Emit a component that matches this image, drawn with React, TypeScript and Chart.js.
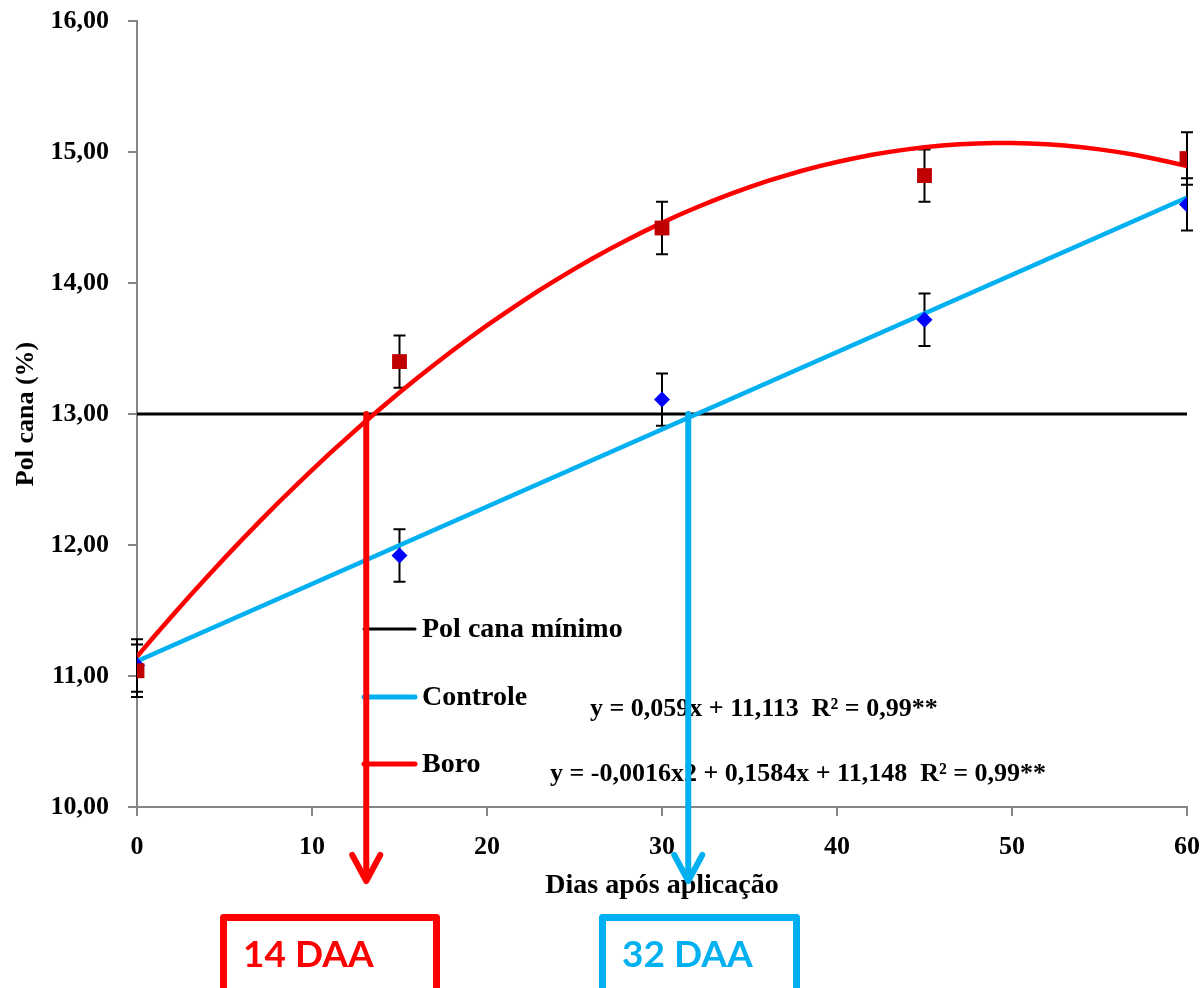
import { useEffect, useRef } from "react";
import { Chart, registerables } from "chart.js";

Chart.register(...registerables);

// Sampling days and measured Pol cana (%) per treatment
const days = [0, 15, 30, 45, 60];
const controleValues = [11.08, 11.92, 13.11, 13.72, 14.6];
const boroValues = [11.04, 13.4, 14.42, 14.82, 14.95];
const controleErrors = [0.2, 0.2, 0.2, 0.2, 0.2];
const boroErrors = [0.2, 0.2, 0.2, 0.2, 0.2];

// Minimum Pol cana reference level
const polMinimo = 13;

// Regression coefficients (constant, x, x²)
const controleCoef = [11.113, 0.059];
const boroCoef = [11.148, 0.1584, -0.0016];

const legendLabels = ["Pol cana mínimo", "Controle", "Boro"];
const equationLabels = [
  "y = 0,059x + 11,113  R² = 0,99**",
  "y = -0,0016x2 + 0,1584x + 11,148  R² = 0,99**",
];
// Days where each treatment reaches the minimum level
const daaDays = [13.1, 31.5];
const daaLabels = ["14 DAA", "32 DAA"];

const RED = "#FF0000";
const CYAN = "#00B0F0";
const AXIS = "#868686";
const SERIF = '"Liberation Serif", "Times New Roman", serif';

const polyAt = (coef: number[], x: number) =>
  coef.reduce((s, c, i) => s + c * Math.pow(x, i), 0);

const fitDays = Array.from({ length: 61 }, (_, i) => i);

const errorBarsPlugin = {
  id: "errorBars",
  beforeDatasetsDraw(chart: any) {
    const { ctx, scales } = chart;
    const x = scales.x;
    const y = scales.y;
    ctx.save();
    ctx.strokeStyle = "#000000";
    ctx.lineWidth = 2;
    const sets = [
      { vals: boroValues, errs: boroErrors },
      { vals: controleValues, errs: controleErrors },
    ];
    sets.forEach(({ vals, errs }) => {
      vals.forEach((v, i) => {
        const px = x.getPixelForValue(days[i]);
        const top = y.getPixelForValue(v + errs[i]);
        const bot = y.getPixelForValue(v - errs[i]);
        ctx.beginPath();
        ctx.moveTo(px, top);
        ctx.lineTo(px, bot);
        ctx.moveTo(px - 6, top);
        ctx.lineTo(px + 6, top);
        ctx.moveTo(px - 6, bot);
        ctx.lineTo(px + 6, bot);
        ctx.stroke();
      });
    });
    ctx.restore();
  },
};

const annotationsPlugin = {
  id: "annotations",
  afterDraw(chart: any) {
    const { ctx, scales } = chart;
    const x = scales.x;
    const y = scales.y;
    ctx.save();

    // legend
    const legendColors = ["#000000", CYAN, RED];
    const legendWidths = [3, 5, 5];
    const legendY = [629, 697, 764];
    legendLabels.forEach((label, i) => {
      ctx.strokeStyle = legendColors[i];
      ctx.lineWidth = legendWidths[i];
      ctx.lineCap = "round";
      ctx.beginPath();
      ctx.moveTo(364, legendY[i]);
      ctx.lineTo(415, legendY[i]);
      ctx.stroke();
      ctx.fillStyle = "#000000";
      ctx.font = `bold 28px ${SERIF}`;
      ctx.textAlign = "left";
      ctx.textBaseline = "middle";
      ctx.fillText(label, 422, legendY[i] + 1);
    });

    // regression equations
    ctx.font = `bold 26px ${SERIF}`;
    ctx.fillStyle = "#000000";
    ctx.textBaseline = "middle";
    ctx.fillText(equationLabels[0], 590, 709);
    ctx.fillText(equationLabels[1], 550, 774);

    // arrows from the minimum level down to the DAA boxes
    const colors = [RED, CYAN];
    daaDays.forEach((d, i) => {
      const px = x.getPixelForValue(d);
      const top = y.getPixelForValue(polMinimo);
      const tip = 881;
      ctx.strokeStyle = colors[i];
      ctx.lineWidth = 6;
      ctx.lineCap = "round";
      ctx.lineJoin = "round";
      ctx.beginPath();
      ctx.moveTo(px, top);
      ctx.lineTo(px, tip - 2);
      ctx.stroke();
      ctx.beginPath();
      ctx.moveTo(px - 14, tip - 26);
      ctx.lineTo(px, tip);
      ctx.lineTo(px + 14, tip - 26);
      ctx.stroke();
    });

    // DAA boxes
    const boxes = [
      { left: 220, right: 440, textX: 243 },
      { left: 599, right: 800, textX: 622 },
    ];
    boxes.forEach((b, i) => {
      ctx.strokeStyle = colors[i];
      ctx.lineWidth = 7;
      ctx.lineJoin = "round";
      ctx.strokeRect(b.left + 3.5, 917.5, b.right - b.left - 7, 100);
      ctx.fillStyle = colors[i];
      ctx.font = `bold 37px Lato, "Open Sans", sans-serif`;
      ctx.textAlign = "left";
      ctx.textBaseline = "alphabetic";
      ctx.fillText(daaLabels[i], b.textX, 967);
    });

    ctx.restore();
  },
};

export default function App() {
  const canvasRef = useRef<HTMLCanvasElement | null>(null);

  useEffect(() => {
    if (!canvasRef.current) return;
    const chart = new Chart(canvasRef.current, {
      type: "scatter",
      data: {
        datasets: [
          {
            label: "Boro",
            data: days.map((d, i) => ({ x: d, y: boroValues[i] })),
            pointStyle: "rect",
            pointRadius: 10.5,
            backgroundColor: "#C00000",
            borderColor: "#C00000",
            borderWidth: 0,
            showLine: false,
          },
          {
            label: "Controle",
            data: days.map((d, i) => ({ x: d, y: controleValues[i] })),
            pointStyle: "rectRot",
            pointRadius: 8,
            backgroundColor: "#0000FF",
            borderColor: "#0000FF",
            borderWidth: 0,
            showLine: false,
          },
          {
            label: "Boro ajuste",
            data: fitDays.map((d) => ({ x: d, y: polyAt(boroCoef, d) })),
            showLine: true,
            borderColor: RED,
            borderWidth: 4.5,
            pointRadius: 0,
            tension: 0,
          },
          {
            label: "Controle ajuste",
            data: [0, 60].map((d) => ({ x: d, y: polyAt(controleCoef, d) })),
            showLine: true,
            borderColor: CYAN,
            borderWidth: 4.5,
            pointRadius: 0,
          },
          {
            label: "Pol cana mínimo",
            data: [0, 60].map((d) => ({ x: d, y: polMinimo })),
            showLine: true,
            borderColor: "#000000",
            borderWidth: 3,
            pointRadius: 0,
          },
        ],
      },
      options: {
        animation: false,
        responsive: false,
        layout: { padding: { left: 0, top: 21, right: 14, bottom: 85 } },
        plugins: {
          legend: { display: false },
          tooltip: { enabled: false },
        },
        scales: {
          x: {
            type: "linear",
            min: 0,
            max: 60,
            ticks: {
              stepSize: 10,
              color: "#000000",
              padding: 16,
              font: { family: SERIF, size: 26, weight: "bold" },
            },
            grid: {
              drawOnChartArea: false,
              drawTicks: true,
              tickLength: 9,
              color: AXIS,
              lineWidth: 2,
            },
            border: { display: true, color: AXIS, width: 2 },
            title: {
              display: true,
              text: "Dias após aplicação",
              color: "#000000",
              padding: 0,
              font: { family: SERIF, size: 28, weight: "bold" },
            },
            afterFit: (scale: any) => {
              scale.height = 96;
              scale.paddingLeft = 0;
              scale.paddingRight = 0;
            },
          },
          y: {
            type: "linear",
            min: 10,
            max: 16,
            ticks: {
              stepSize: 1,
              color: "#000000",
              padding: 19,
              font: { family: SERIF, size: 26, weight: "bold" },
              callback: (v: any) => Number(v).toFixed(2).replace(".", ","),
            },
            grid: {
              drawOnChartArea: false,
              drawTicks: true,
              tickLength: 9,
              color: AXIS,
              lineWidth: 2,
            },
            border: { display: true, color: AXIS, width: 2 },
            title: {
              display: true,
              text: "Pol cana (%)",
              color: "#000000",
              padding: { top: 11, bottom: 0 },
              font: { family: SERIF, size: 26, weight: "bold" },
            },
            afterFit: (scale: any) => {
              scale.width = 137;
              scale.paddingTop = 0;
              scale.paddingBottom = 0;
            },
          },
        },
      },
      plugins: [errorBarsPlugin, annotationsPlugin],
    });
    return () => chart.destroy();
  }, []);

  return (
    <div style={{ position: "absolute", left: 0, top: 0, width: 1201, height: 988, background: "#ffffff" }}>
      <canvas ref={canvasRef} width={1201} height={988} style={{ display: "block" }} />
    </div>
  );
}
